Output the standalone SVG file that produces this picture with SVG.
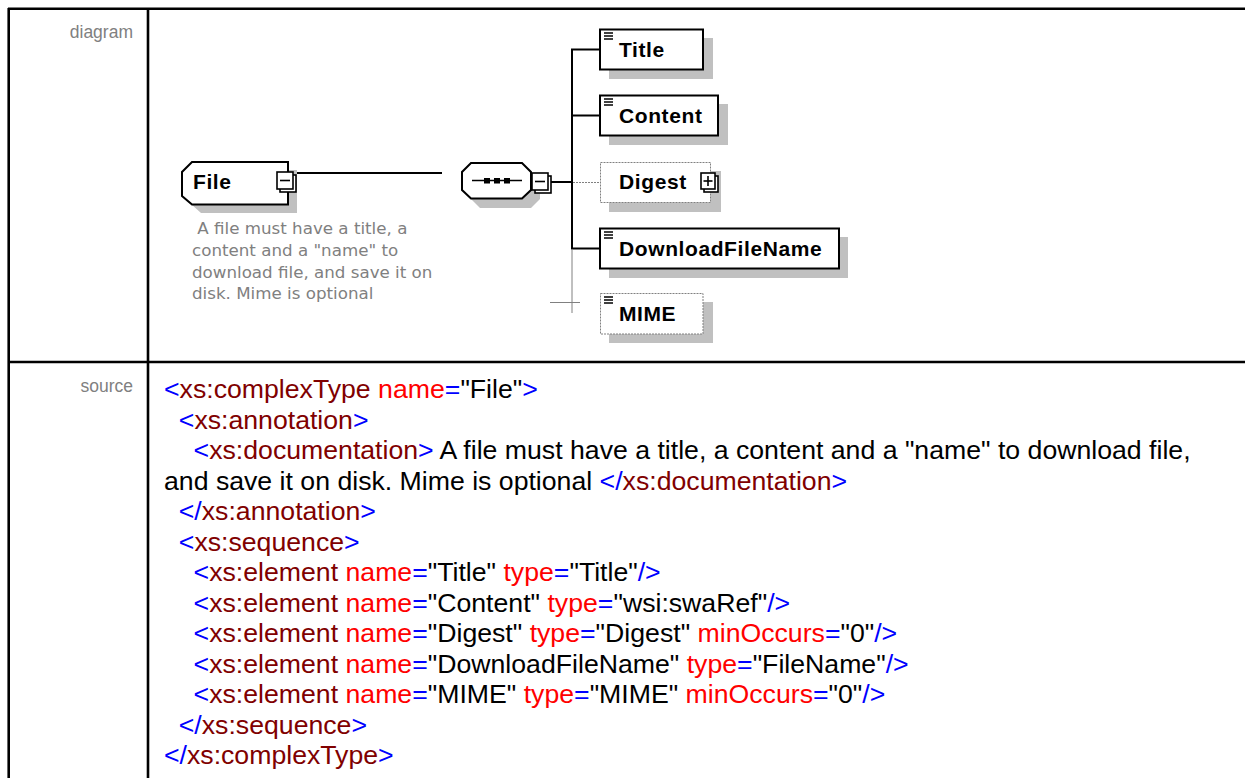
<svg xmlns="http://www.w3.org/2000/svg" width="1245" height="778" viewBox="0 0 1245 778">
<style>
.grid{stroke:#000;stroke-width:2.6;fill:none}
.lbl{font-family:"Liberation Sans",Arial,sans-serif;font-size:17.5px;fill:#808080;text-anchor:end}
.src{font-family:"Liberation Sans",Arial,sans-serif;font-size:26.67px;fill:#000}
.b{fill:#0000FF}.t{fill:#800000}.a{fill:#FF0000}
.shadow{fill:#c0c0c0;stroke:none}
.box{fill:#fff;stroke:#000;stroke-width:2}
.opt{fill:#fff;stroke:#808080;stroke-width:1;stroke-dasharray:2,1}
.nm{font-family:"Liberation Sans",Arial,sans-serif;font-size:21px;font-weight:bold;letter-spacing:0.6px;fill:#000}
.ann{font-family:"DejaVu Sans",sans-serif;font-size:16.7px;fill:#808080}
.conn{stroke:#000;stroke-width:2;fill:none}
.thin{stroke:#808080;stroke-width:1;fill:none}
.dash{stroke:#808080;stroke-width:1;stroke-dasharray:2,1;fill:none}
.ico{stroke:#000;stroke-width:1.5}
.pm{fill:#fff;stroke:#000;stroke-width:1.6}
</style>
<defs>
<g id="icon"><line class="ico" x1="0" y1="0" x2="9" y2="0"/><line class="ico" x1="0" y1="3" x2="9" y2="3"/><line class="ico" x1="0" y1="6" x2="9" y2="6"/></g>
<g id="minus"><rect class="pm" x="3" y="3" width="16" height="17"/><rect class="pm" x="0" y="0" width="16" height="17"/><line stroke="#000" stroke-width="1.6" x1="3" y1="8.5" x2="13" y2="8.5"/></g>
<g id="plus"><rect class="pm" x="3" y="3" width="14" height="16"/><rect class="pm" x="0" y="0" width="14" height="16"/><line stroke="#000" stroke-width="1.6" x1="2.5" y1="8" x2="11.5" y2="8"/><line stroke="#000" stroke-width="1.6" x1="7" y1="3" x2="7" y2="13"/></g>
</defs>

<g id="table">
<line class="grid" x1="8" y1="8.7" x2="1245" y2="8.7"/>
<line class="grid" x1="8.7" y1="8" x2="8.7" y2="778"/>
<line class="grid" x1="148" y1="8" x2="148" y2="778"/>
<line class="grid" x1="8" y1="362" x2="1245" y2="362"/>
<text class="lbl" x="133" y="38">diagram</text>
<text class="lbl" x="133" y="392">source</text>
</g>

<g id="connectors">
<line class="conn" x1="296" y1="173" x2="442" y2="173"/>
<line class="conn" x1="551" y1="182" x2="572" y2="182"/>
<line class="conn" x1="572" y1="49.5" x2="572" y2="249"/>
<line class="conn" x1="571" y1="49.5" x2="600" y2="49.5"/>
<line class="conn" x1="571" y1="115.5" x2="600" y2="115.5"/>
<line class="dash" x1="573" y1="182.5" x2="600" y2="182.5"/>
<line class="conn" x1="571" y1="248.5" x2="600" y2="248.5"/>
<line class="thin" x1="572" y1="249" x2="572" y2="313"/>
<line class="thin" x1="550" y1="302.5" x2="580" y2="302.5"/>
</g>

<g id="node-file">
<polygon class="shadow" points="201,170 297,170 297,213 201,213 191,204 191,180"/>
<polygon class="box" points="192,162 288,162 288,204.5 192,204.5 182,196 182,172"/>
<text class="nm" x="193" y="189">File</text>
<use href="#minus" x="277" y="172"/>
</g>

<g id="annotation">
<text class="ann" x="192" y="234" xml:space="preserve"> A file must have a title, a</text>
<text class="ann" x="192" y="256">content and a "name" to</text>
<text class="ann" x="192" y="278">download file, and save it on</text>
<text class="ann" x="192" y="299">disk. Mime is optional</text>
</g>

<g id="node-sequence">
<polygon class="shadow" points="480,172 531,172 540,181 540,199 531,208 480,208 471,199 471,181"/>
<polygon class="box" points="471,163 522,163 531,172 531,190 522,198.5 471,198.5 462,190 462,172"/>
<line stroke="#000" stroke-width="1.5" x1="472" y1="180.5" x2="522" y2="180.5"/>
<rect x="484" y="178" width="6" height="5.5" fill="#000"/>
<rect x="494" y="178" width="6" height="5.5" fill="#000"/>
<rect x="504" y="178" width="6" height="5.5" fill="#000"/>
<use href="#minus" x="532" y="173"/>
</g>

<g id="node-title">
<rect class="shadow" x="609" y="38" width="104" height="41"/>
<rect class="box" x="600" y="29.5" width="103" height="40"/>
<use href="#icon" x="604" y="33"/>
<text class="nm" x="619" y="56.5">Title</text>
</g>

<g id="node-content">
<rect class="shadow" x="609" y="104" width="119" height="41"/>
<rect class="box" x="600" y="95.5" width="118" height="40"/>
<use href="#icon" x="604" y="99"/>
<text class="nm" x="619" y="122.5">Content</text>
</g>

<g id="node-digest">
<rect class="shadow" x="609" y="171" width="112" height="41"/>
<rect class="opt" x="600.5" y="162.5" width="110" height="40"/>
<text class="nm" x="619" y="189">Digest</text>
<use href="#plus" x="701" y="173"/>
</g>

<g id="node-downloadfilename">
<rect class="shadow" x="609" y="237" width="239" height="41"/>
<rect class="box" x="600" y="228.5" width="239" height="40"/>
<use href="#icon" x="604" y="232"/>
<text class="nm" x="619" y="256">DownloadFileName</text>
</g>

<g id="node-mime">
<rect class="shadow" x="609" y="302" width="104" height="41"/>
<rect class="opt" x="600.5" y="293.5" width="102.5" height="40.5"/>
<use href="#icon" x="604" y="297"/>
<text class="nm" x="619" y="321">MIME</text>
</g>

<g id="source">
<text class="src" xml:space="preserve" x="164" y="398"><tspan class="b">&lt;</tspan><tspan class="t">xs:complexType</tspan> <tspan class="a">name</tspan><tspan class="b">=</tspan>"File"<tspan class="b">&gt;</tspan></text>
<text class="src" xml:space="preserve" x="178.8" y="428.5"><tspan class="b">&lt;</tspan><tspan class="t">xs:annotation</tspan><tspan class="b">&gt;</tspan></text>
<text class="src" xml:space="preserve" x="193.6" y="459"><tspan class="b">&lt;</tspan><tspan class="t">xs:documentation</tspan><tspan class="b">&gt;</tspan> A file must have a title, a content and a "name" to download file,</text>
<text class="src" xml:space="preserve" x="164" y="489.5">and save it on disk. Mime is optional <tspan class="b">&lt;/</tspan><tspan class="t">xs:documentation</tspan><tspan class="b">&gt;</tspan></text>
<text class="src" xml:space="preserve" x="178.8" y="520"><tspan class="b">&lt;/</tspan><tspan class="t">xs:annotation</tspan><tspan class="b">&gt;</tspan></text>
<text class="src" xml:space="preserve" x="178.8" y="550.5"><tspan class="b">&lt;</tspan><tspan class="t">xs:sequence</tspan><tspan class="b">&gt;</tspan></text>
<text class="src" xml:space="preserve" x="193.6" y="581"><tspan class="b">&lt;</tspan><tspan class="t">xs:element</tspan> <tspan class="a">name</tspan><tspan class="b">=</tspan>"Title" <tspan class="a">type</tspan><tspan class="b">=</tspan>"Title"<tspan class="b">/&gt;</tspan></text>
<text class="src" xml:space="preserve" x="193.6" y="611.5"><tspan class="b">&lt;</tspan><tspan class="t">xs:element</tspan> <tspan class="a">name</tspan><tspan class="b">=</tspan>"Content" <tspan class="a">type</tspan><tspan class="b">=</tspan>"wsi:swaRef"<tspan class="b">/&gt;</tspan></text>
<text class="src" xml:space="preserve" x="193.6" y="642"><tspan class="b">&lt;</tspan><tspan class="t">xs:element</tspan> <tspan class="a">name</tspan><tspan class="b">=</tspan>"Digest" <tspan class="a">type</tspan><tspan class="b">=</tspan>"Digest" <tspan class="a">minOccurs</tspan><tspan class="b">=</tspan>"0"<tspan class="b">/&gt;</tspan></text>
<text class="src" xml:space="preserve" x="193.6" y="672.5"><tspan class="b">&lt;</tspan><tspan class="t">xs:element</tspan> <tspan class="a">name</tspan><tspan class="b">=</tspan>"DownloadFileName" <tspan class="a">type</tspan><tspan class="b">=</tspan>"FileName"<tspan class="b">/&gt;</tspan></text>
<text class="src" xml:space="preserve" x="193.6" y="703"><tspan class="b">&lt;</tspan><tspan class="t">xs:element</tspan> <tspan class="a">name</tspan><tspan class="b">=</tspan>"MIME" <tspan class="a">type</tspan><tspan class="b">=</tspan>"MIME" <tspan class="a">minOccurs</tspan><tspan class="b">=</tspan>"0"<tspan class="b">/&gt;</tspan></text>
<text class="src" xml:space="preserve" x="178.8" y="733.5"><tspan class="b">&lt;/</tspan><tspan class="t">xs:sequence</tspan><tspan class="b">&gt;</tspan></text>
<text class="src" xml:space="preserve" x="164" y="764"><tspan class="b">&lt;/</tspan><tspan class="t">xs:complexType</tspan><tspan class="b">&gt;</tspan></text>
</g>
</svg>
